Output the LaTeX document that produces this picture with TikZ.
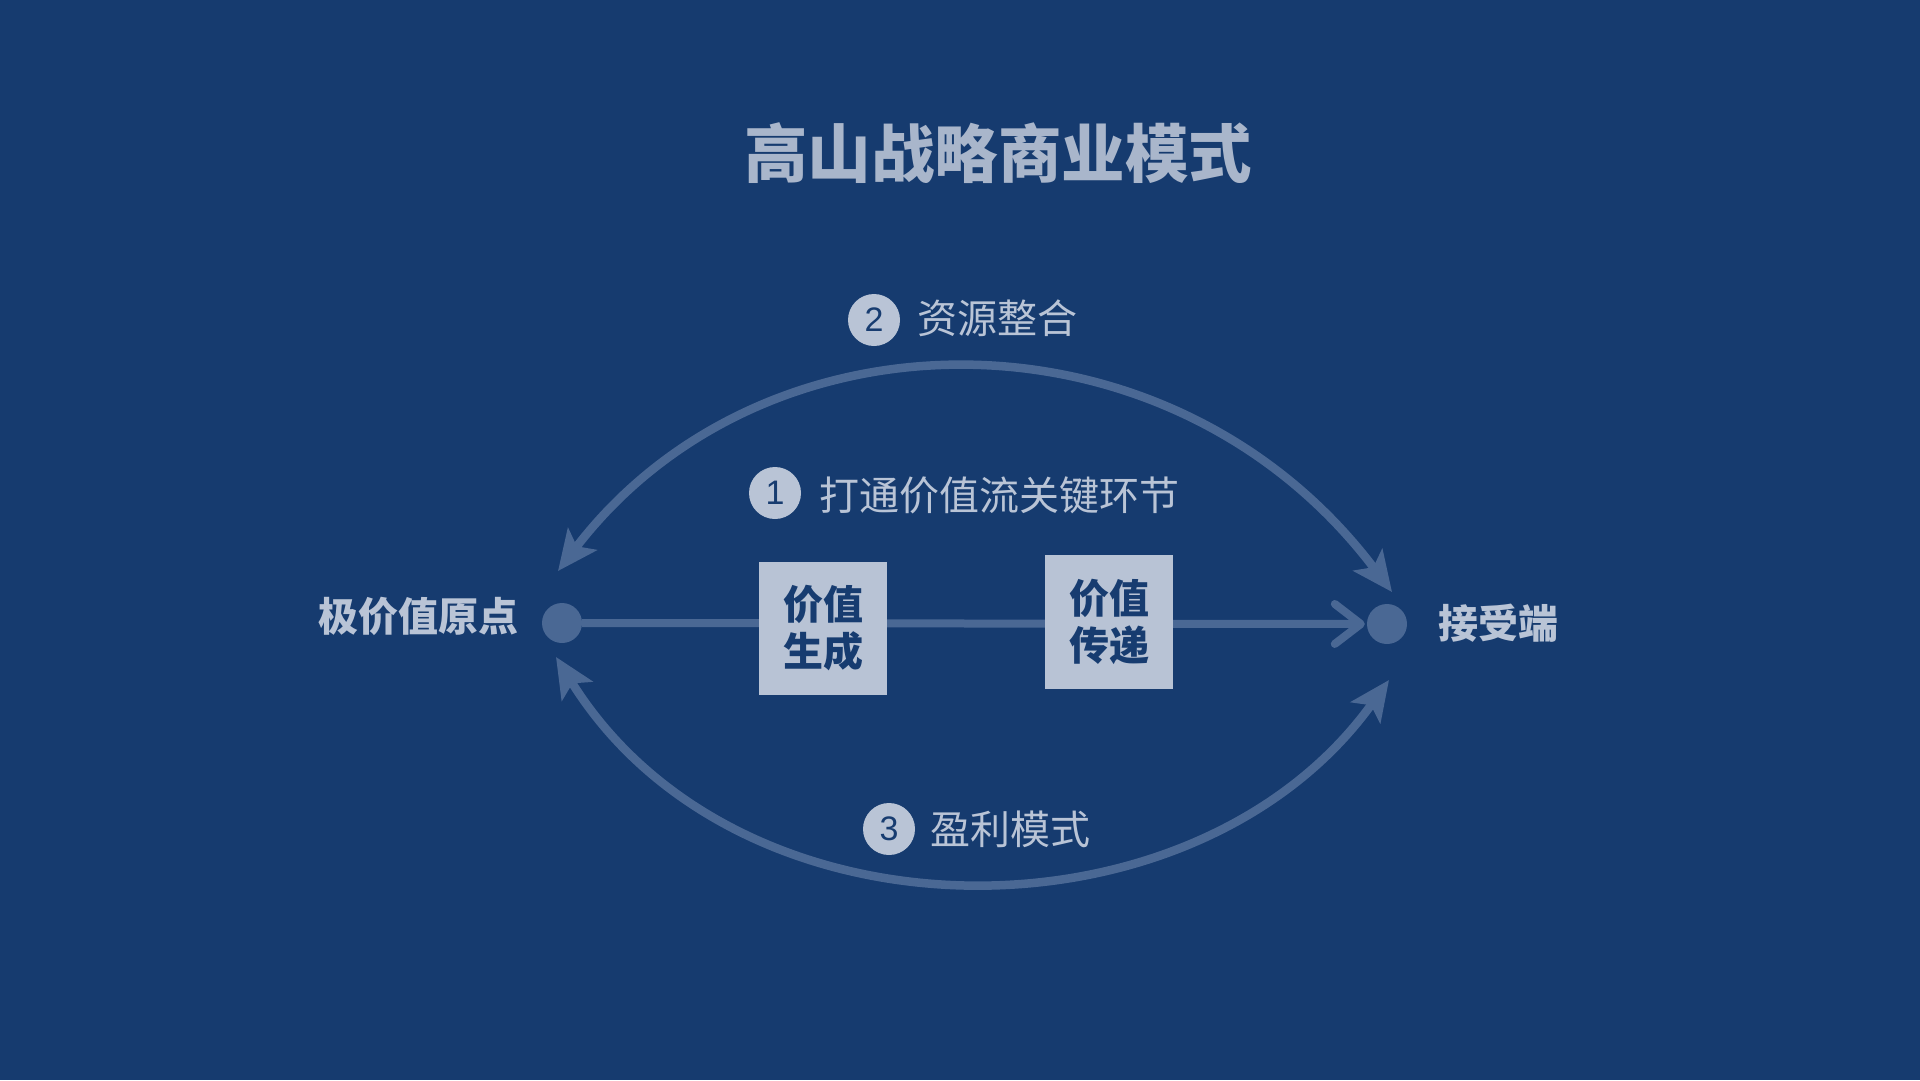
\documentclass[tikz,border=0pt]{standalone}
\usepackage{fontspec}
\setmainfont{Noto Sans CJK SC}
\newfontfamily\digitfont{Liberation Sans}
\usetikzlibrary{arrows.meta}
\definecolor{bg}{HTML}{163B6F}
\definecolor{arcc}{HTML}{4A6894}
\definecolor{lighttxt}{HTML}{B9C4D6}
\definecolor{titletxt}{HTML}{A9B6CB}
\definecolor{boxfill}{HTML}{B8C3D5}
\definecolor{boxtxt}{HTML}{173C70}
\tikzset{
  arcline/.style={draw=arcc, line width=8.5pt, {Stealth[length=40pt,width=36pt,inset=9pt]}-{Stealth[length=40pt,width=36pt,inset=9pt]}},
  numcirc/.style={circle, fill=lighttxt, minimum size=52pt, inner sep=0pt, text=boxtxt, font=\digitfont\fontsize{34}{34}\selectfont},
  lbl/.style={anchor=west, text=lighttxt, inner sep=0pt, font=\fontsize{40}{40}\selectfont},
  sidelbl/.style={text=lighttxt, inner sep=0pt, font=\bfseries\fontsize{40}{40}\selectfont},
  dotnode/.style={circle, fill=arcc, minimum size=40pt, inner sep=0pt},
  stagebox/.style={fill=boxfill, minimum width=128pt, minimum height=133pt, inner sep=0pt, align=center, text=boxtxt, font=\bfseries\fontsize{40}{47}\selectfont},
}
\begin{document}
\begin{tikzpicture}[x=1pt,y=-1pt]
\fill[bg] (0,0) rectangle (1920,1080);
\useasboundingbox (0,0) rectangle (1920,1080);
% title
\node[text=titletxt, inner sep=0pt, font=\bfseries\fontsize{63.5}{63.5}\selectfont] (title) at (998,153) {高山战略商业模式};
% endpoints of arcs
\coordinate (tl) at (558,571);
\coordinate (tr) at (1392,592);
\coordinate (bl) at (556,657);
\coordinate (br) at (1389,680);
% arcs
\draw[arcline] (tl) .. controls (765,300) and (1172,300) .. (tr);
\draw[arcline] (bl) .. controls (738,950) and (1195,950) .. (br);
% dots
\node[dotnode] (ld) at (562,623) {};
\node[dotnode] (rd) at (1387,624) {};
% main line
\draw[draw=arcc, line width=8pt, -{Straight Barb[length=26pt,width=40pt,round]}] (ld.east) -- ([xshift=-2pt]rd.west);
% boxes
\node[stagebox] (b1) at (823,628) {价值\\生成};
\node[stagebox, minimum height=134pt] (b2) at (1109,622) {价值\\传递};
% side labels
\node[sidelbl] (lefttxt) at (418,616) {极价值原点};
\node[sidelbl] (righttxt) at (1498,623) {接受端};
% numbered labels
\node[numcirc] (c2) at (874,320) {2};
\node[lbl] (t2) at (917,318) {资源整合};
\node[numcirc] (c1) at (775,493) {1};
\node[lbl] (t1) at (819,495) {打通价值流关键环节};
\node[numcirc] (c3) at (889,829) {3};
\node[lbl] (t3) at (930,829) {盈利模式};
\end{tikzpicture}
\end{document}
